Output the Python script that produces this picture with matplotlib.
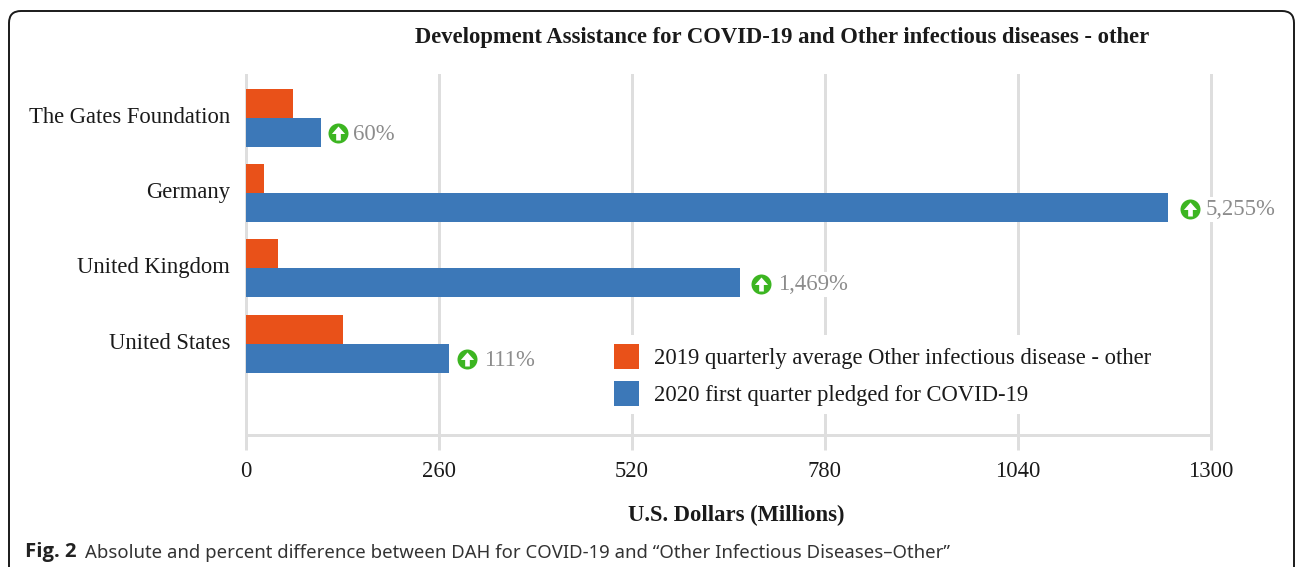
import numpy as np
import matplotlib
matplotlib.use('Agg')
import matplotlib.pyplot as plt
from matplotlib.patches import FancyBboxPatch
from matplotlib.path import Path
from matplotlib.transforms import offset_copy, ScaledTranslation

plt.rcParams['font.family'] = ['Liberation Serif', 'DejaVu Serif']

# data
donors = ['The Gates Foundation', 'Germany', 'United Kingdom', 'United States']
avg_2019 = [64, 25, 44, 131]
pledged_2020 = [102, 1242, 666, 274]
pct_labels = ['60%', '5,255%', '1,469%', '111%']
xticks = [0, 260, 520, 780, 1040, 1300]

title = 'Development Assistance for COVID-19 and Other infectious diseases - other'
xlabel = 'U.S. Dollars (Millions)'
legend_labels = ['2019 quarterly average Other infectious disease - other',
                 '2020 first quarter pledged for COVID-19']

W, H = 1295, 567
dpi = 100
fs = 16.3
orange = '#e95119'
blue = '#3c78b8'
green = '#3cb521'
grid = '#dedede'
px = 72.0 / dpi  # one pixel in points

# gap in pixels from bar end to badge and to label
badge_dx = [17, 22, 21, 18]
label_dx = [32, 38, 38, 35]

fig = plt.figure(figsize=(W / dpi, H / dpi), dpi=dpi)

# rounded frame, its lower edge falls off the page
bg = fig.add_axes([0, 0, 1, 1])
bg.set_xlim(0, W)
bg.set_ylim(H, 0)
bg.axis('off')
bg.add_patch(FancyBboxPatch((21, 23), 1261, 556, boxstyle='round,pad=12,rounding_size=12',
                            fc='white', ec='#1a1a1a', lw=1.4))

# axes placed on the pixels of the plot area
ax = fig.add_axes([245.5 / W, (H - 435) / H, (1211 - 245.5) / W, 360 / H])
ax.patch.set_alpha(0)
y = np.arange(len(donors))
h = 0.385
bars1 = ax.barh(y - h / 2, avg_2019, height=h, color=orange, label=legend_labels[0], zorder=3)
bars2 = ax.barh(y + h / 2, pledged_2020, height=h, color=blue, label=legend_labels[1], zorder=3)

ax.set_xlim(0, 1300)
ax.set_ylim(4.215, -0.572)
ax.set_xticks(xticks)
ax.set_yticks(y)
ax.set_yticklabels(donors, fontsize=fs, color='#1a1a1a')
ax.tick_params(axis='y', length=0, pad=11)
ax.tick_params(axis='x', length=15 * px, width=3 * px, color=grid, pad=8,
               labelsize=fs, labelcolor='#1a1a1a')
ax.grid(axis='x', color=grid, lw=3 * px, zorder=0)
ax.set_axisbelow(True)
for s in ['top', 'right', 'left']:
    ax.spines[s].set_visible(False)
ax.spines['bottom'].set_color(grid)
ax.spines['bottom'].set_linewidth(3 * px)
for ln in ax.get_xgridlines():
    ln.set_clip_on(False)
# category labels sit a little above the bar centres
lift = ScaledTranslation(0, 3.0 / dpi, fig.dpi_scale_trans)
for lab in ax.get_yticklabels():
    lab.set_transform(lab.get_transform() + lift)

# white arrow for the green badges
arrow = Path([(-0.24, -0.05), (-0.68, -0.05), (0, 0.72), (0.68, -0.05), (0.24, -0.05), (0.24, -0.72), (-0.24, -0.72), (-0.24, -0.05)],
             [Path.MOVETO] + [Path.LINETO] * 6 + [Path.CLOSEPOLY])

for i, val in enumerate(pledged_2020):
    yi = y[i] + h / 2
    tr = offset_copy(ax.transData, fig=fig, x=badge_dx[i] * px, y=-1 * px, units='points')
    ax.plot([val], [yi], 'o', ms=20 * px, color=green, mew=0, transform=tr, zorder=5, clip_on=False)
    ax.plot([val], [yi], marker=arrow, ms=14 * px, color='white', mew=0, transform=tr, zorder=6, clip_on=False)
    ax.annotate(pct_labels[i], (val, yi), xytext=(label_dx[i], -2), textcoords='offset pixels',
                ha='left', va='center', fontsize=16.4, color='#8c8c8c', zorder=4, annotation_clip=False,
                bbox=dict(fc='white', ec='none', pad=1.5))

leg = ax.legend(handles=[bars1, bars2], loc='upper left', bbox_to_anchor=((605 - 245.5) / 965.5, (435 - 335) / 360),
                fontsize=fs, frameon=True, facecolor='white', edgecolor='none', framealpha=1,
                handlelength=25 * px / fs, handleheight=1.32, handletextpad=15 * px / fs,
                labelspacing=12 * px / fs, borderpad=0.38, borderaxespad=0, fancybox=False)
leg.set_zorder(2)
for t in leg.get_texts():
    t.set_color('#1a1a1a')

fig.text(782 / W, 1 - 37 / H, title, ha='center', va='center', fontsize=fs, fontweight='bold', color='#1a1a1a')
fig.text(736 / W, 1 - 515 / H, xlabel, ha='center', va='center', fontsize=fs, fontweight='bold', color='#1a1a1a')
fig.text(25 / W, 1 - 552.5 / H, 'Fig. 2', ha='left', va='center', fontsize=14.6, fontweight='bold',
         family='Open Sans', color='#222222')
fig.text(85 / W, 1 - 552.5 / H, 'Absolute and percent difference between DAH for COVID-19 and \u201cOther Infectious Diseases\u2013Other\u201d',
         ha='left', va='center', fontsize=13.35, family='Noto Sans', color='#333333')

fig.savefig('out.png', dpi=dpi)
